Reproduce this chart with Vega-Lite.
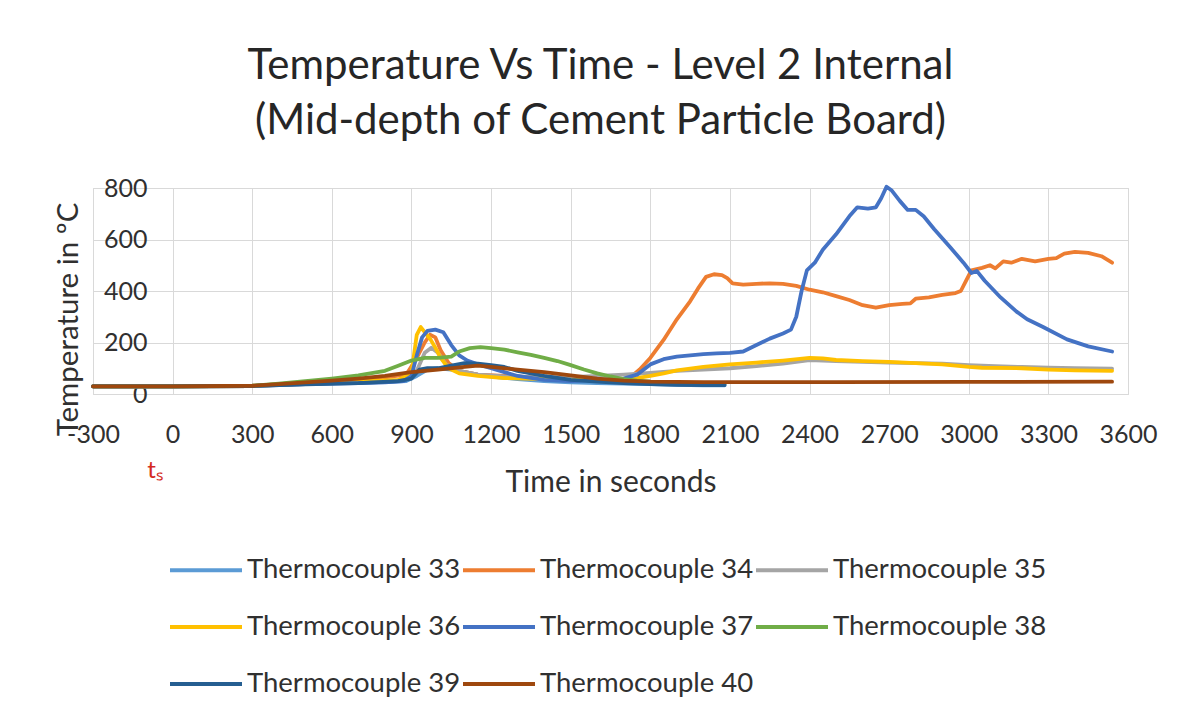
{
  "$schema": "https://vega.github.io/schema/vega-lite/v6.json",
  "width": 1035,
  "height": 206,
  "autosize": {"type": "none"},
  "padding": {"left": 93, "top": 188, "right": 60, "bottom": 324},
  "background": "white",
  "title": {
    "text": ["Temperature Vs Time - Level 2 Internal", "(Mid-depth of Cement Particle Board)"],
    "font": "Lato",
    "fontSize": 42,
    "fontWeight": "normal",
    "color": "#262626",
    "lineHeight": 55,
    "offset": 33,
    "dx": -10
  },
  "config": {
    "view": {"stroke": "#d4d4d4"},
    "font": "Lato"
  },
  "layer": [
    {
      "data": {
        "values": [
          {"s": "Thermocouple 33", "t": [-300,0,300,400,500,600,700,800,880,920,960,1000,1050,1100,1150,1200,1300,1400,1500,1600,1700,1800,1900,2000,2080], "v": [30,30,31,36,40,42,44,46,50,70,95,100,95,85,75,68,58,50,45,42,40,38,36,34,34]},
          {"s": "Thermocouple 34", "t": [-300,0,300,400,500,600,700,800,880,920,950,970,990,1010,1040,1080,1150,1250,1350,1450,1550,1650,1720,1760,1800,1850,1900,1950,1980,2010,2040,2070,2090,2110,2150,2200,2250,2300,2350,2400,2450,2500,2550,2600,2650,2700,2750,2780,2800,2850,2900,2950,2970,2990,3010,3050,3080,3100,3130,3160,3200,3250,3300,3330,3360,3400,3450,3500,3540], "v": [30,30,31,38,45,52,58,65,75,140,200,230,220,170,120,90,75,70,65,60,55,55,60,95,140,210,290,360,410,455,465,462,450,430,425,428,430,428,420,405,395,380,365,345,335,345,350,352,370,375,385,392,400,440,480,490,500,488,515,510,525,515,525,528,545,552,548,535,510]},
          {"s": "Thermocouple 35", "t": [-300,0,300,500,700,850,920,950,975,1000,1030,1080,1150,1250,1400,1500,1600,1700,1800,1900,2000,2100,2200,2300,2400,2500,2600,2700,2800,2900,3000,3100,3200,3300,3400,3540], "v": [30,30,31,38,45,52,90,160,180,160,115,90,75,68,65,65,70,75,82,90,95,100,108,118,132,128,125,122,120,118,112,108,105,102,100,98]},
          {"s": "Thermocouple 36", "t": [-300,0,300,500,700,850,900,920,935,950,970,990,1010,1040,1080,1150,1250,1400,1500,1600,1700,1750,1800,1850,1900,2000,2100,2200,2300,2400,2450,2500,2600,2700,2800,2900,3000,3050,3200,3300,3400,3540], "v": [30,30,31,40,48,55,80,230,260,240,215,180,140,100,80,70,62,58,55,55,57,62,70,80,92,105,115,122,130,140,138,132,128,125,120,115,105,102,100,95,92,90]},
          {"s": "Thermocouple 37", "t": [-300,0,300,400,500,600,700,800,870,900,920,940,960,990,1020,1050,1080,1110,1150,1200,1250,1300,1400,1500,1600,1700,1750,1800,1850,1900,1950,2000,2050,2100,2150,2200,2250,2300,2330,2350,2370,2390,2420,2450,2500,2550,2580,2620,2650,2670,2690,2710,2740,2770,2800,2830,2870,2930,2980,3010,3030,3060,3120,3180,3220,3280,3370,3450,3540], "v": [30,30,31,35,38,40,42,45,50,70,150,220,245,250,240,190,150,130,115,100,85,70,55,50,55,60,75,115,135,145,150,155,158,160,165,190,215,235,250,300,400,480,510,560,620,690,725,720,725,760,805,790,750,715,715,690,640,570,510,470,478,440,375,320,290,260,212,185,165]},
          {"s": "Thermocouple 38", "t": [-300,0,300,400,500,600,700,800,850,900,950,1000,1050,1080,1120,1160,1200,1250,1300,1350,1400,1450,1500,1550,1600,1650,1700,1750,1800,1900,2000,2080], "v": [30,30,32,40,50,60,72,90,110,130,140,140,145,165,178,182,178,172,162,152,140,128,112,95,80,68,58,52,48,45,42,40]},
          {"s": "Thermocouple 39", "t": [-300,0,300,500,700,850,900,930,960,1000,1050,1100,1150,1200,1250,1300,1400,1500,1600,1700,1800,1900,2000,2080], "v": [30,30,31,37,42,50,60,95,100,100,110,120,118,112,105,90,70,55,48,42,38,36,35,35]},
          {"s": "Thermocouple 40", "t": [-300,0,300,400,500,600,700,800,900,1000,1100,1150,1200,1300,1400,1500,1600,1700,1800,2000,2500,3000,3540], "v": [30,30,32,38,45,52,60,70,85,95,105,110,105,95,85,72,60,52,48,46,46,47,48]}
        ]
      },
      "transform": [{"flatten": ["t", "v"]}],
      "mark": {"type": "line", "strokeWidth": 3.8, "strokeJoin": "round", "strokeCap": "round"},
      "encoding": {
        "x": {
          "field": "t",
          "type": "quantitative",
          "scale": {"domain": [-300, 3600], "nice": false, "zero": false},
          "axis": {
            "values": [-300,0,300,600,900,1200,1500,1800,2100,2400,2700,3000,3300,3600],
            "labelExpr": "'' + datum.value",
            "labelFont": "Lato",
            "labelFontSize": 25,
            "labelColor": "#303030",
            "labelPadding": 28,
            "labelOverlap": false,
            "labelFlush": false,
            "ticks": false,
            "tickSize": 0,
            "domain": false,
            "grid": true,
            "gridColor": "#d9d9d9",
            "title": "Time in seconds",
            "titleFont": "Lato",
            "titleFontSize": 30,
            "titleFontWeight": "normal",
            "titleColor": "#303030",
            "titleBaseline": "middle",
            "titleY": 88
          }
        },
        "y": {
          "field": "v",
          "type": "quantitative",
          "scale": {"domain": [0, 800], "nice": false},
          "axis": {
            "values": [0,200,400,600,800],
            "labelFont": "Lato",
            "labelFontSize": 25,
            "labelColor": "#303030",
            "labelAlign": "right",
            "labelPadding": -54,
            "ticks": false,
            "tickSize": 0,
            "domain": false,
            "grid": true,
            "gridColor": "#d9d9d9",
            "title": "Temperature in ºC",
            "titleFont": "Lato",
            "titleFontSize": 29.5,
            "titleFontWeight": "normal",
            "titleColor": "#303030",
            "titleAngle": 270,
            "titleAlign": "center",
            "titleBaseline": "middle",
            "titleX": -25,
            "titleY": 131
          }
        },
        "color": {
          "field": "s",
          "type": "nominal",
          "scale": {
            "domain": ["Thermocouple 33","Thermocouple 34","Thermocouple 35","Thermocouple 36","Thermocouple 37","Thermocouple 38","Thermocouple 39","Thermocouple 40"],
            "range": ["#5B9BD5","#ED7D31","#A5A5A5","#FFC000","#4472C4","#70AD47","#255E91","#9E480E"]
          },
          "legend": {
            "orient": "none",
            "legendX": 75,
            "legendY": 344,
            "columns": 3,
            "direction": "horizontal",
            "title": null,
            "symbolType": "stroke",
            "symbolSize": 5184,
            "symbolStrokeWidth": 4,
            "labelFont": "Lato",
            "labelFontSize": 27.5,
            "labelColor": "#303030",
            "labelOffset": 3,
            "labelLimit": 400,
            "columnPadding": -11,
            "rowPadding": 5
          }
        }
      }
    },
    {
      "data": {"values": [{"t": -66, "v": -300, "label": "tₛ"}]},
      "mark": {"type": "text", "color": "#d42a1e", "fontSize": 24, "font": "Lato", "baseline": "middle", "align": "center"},
      "encoding": {
        "x": {"field": "t", "type": "quantitative"},
        "y": {"field": "v", "type": "quantitative"},
        "text": {"field": "label"}
      }
    }
  ]
}
